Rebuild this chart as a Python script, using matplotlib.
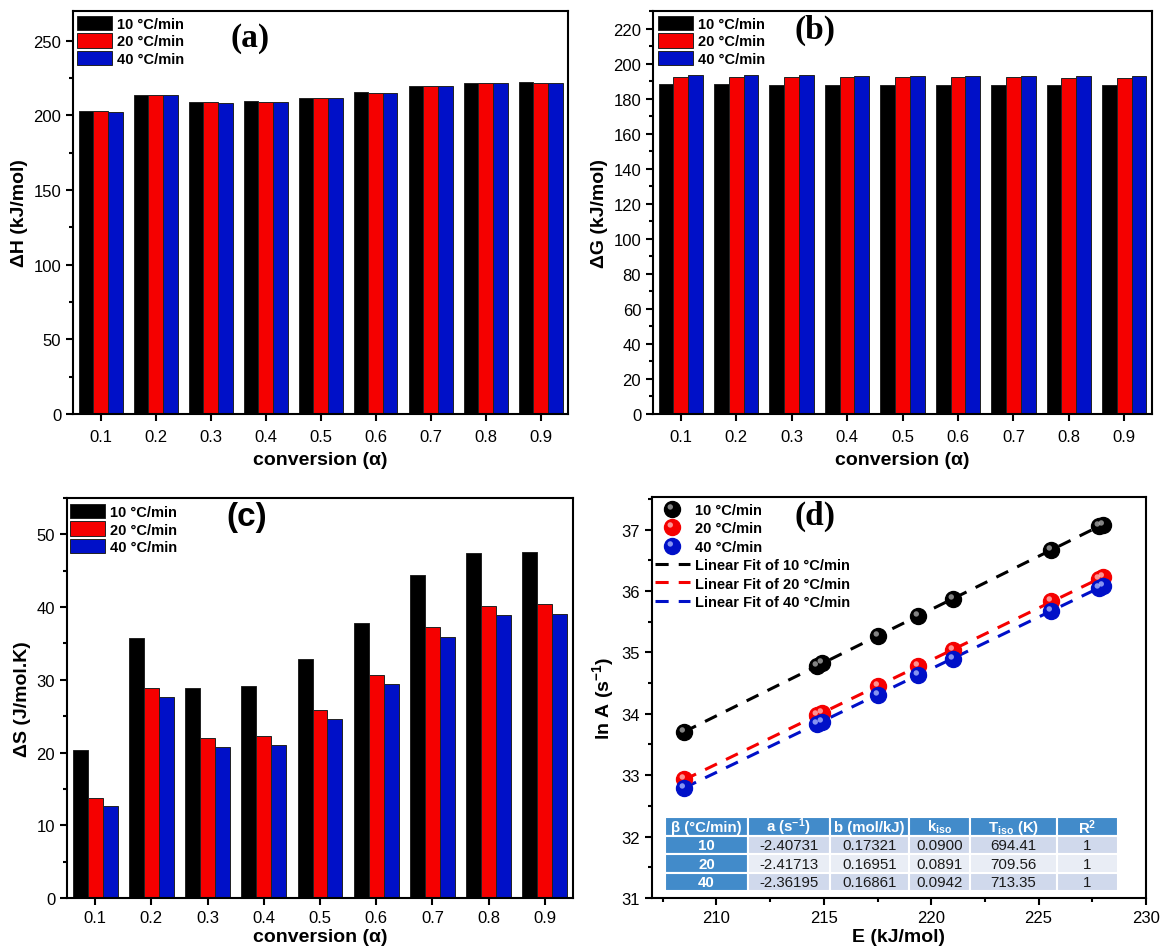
import matplotlib
matplotlib.use('Agg')
import matplotlib.pyplot as plt
import numpy as np
from matplotlib.path import Path
from matplotlib.ticker import MultipleLocator

plt.rcParams['font.family'] = ['Liberation Sans', 'DejaVu Sans']
plt.rcParams['mathtext.fontset'] = 'custom'
plt.rcParams['mathtext.rm'] = 'Liberation Sans'
plt.rcParams['mathtext.it'] = 'Liberation Sans:italic'
plt.rcParams['mathtext.bf'] = 'Liberation Sans:bold'

# data
conversion = [0.1, 0.2, 0.3, 0.4, 0.5, 0.6, 0.7, 0.8, 0.9]
conv_labels = ['0.1', '0.2', '0.3', '0.4', '0.5', '0.6', '0.7', '0.8', '0.9']
rates = ['10 °C/min', '20 °C/min', '40 °C/min']

dH_10 = [203.3, 213.8, 209.2, 209.4, 211.9, 215.4, 219.9, 221.8, 222.1]
dH_20 = [202.7, 213.4, 208.7, 208.8, 211.4, 214.8, 219.5, 221.5, 221.7]
dH_40 = [202.6, 213.4, 208.6, 208.8, 211.4, 214.8, 219.5, 221.5, 221.7]

dG_10 = [188.3, 188.1, 188.0, 188.0, 188.0, 187.9, 187.8, 187.8, 187.8]
dG_20 = [192.6, 192.4, 192.4, 192.3, 192.3, 192.2, 192.1, 192.0, 192.0]
dG_40 = [193.3, 193.2, 193.2, 193.1, 193.1, 193.0, 192.9, 192.8, 192.8]

dS_10 = [20.4, 35.8, 28.9, 29.1, 32.9, 37.8, 44.4, 47.5, 47.6]
dS_20 = [13.8, 28.9, 22.0, 22.3, 25.9, 30.7, 37.2, 40.2, 40.4]
dS_40 = [12.6, 27.6, 20.7, 21.0, 24.6, 29.4, 35.9, 38.9, 39.0]

E_act = [208.5, 219.4, 214.7, 214.9, 217.5, 221.0, 225.6, 227.8, 228.0]
lnA_10 = [33.71, 35.59, 34.78, 34.82, 35.27, 35.87, 36.67, 37.05, 37.08]
lnA_20 = [32.93, 34.77, 33.98, 34.01, 34.45, 35.04, 35.83, 36.20, 36.23]
lnA_40 = [32.79, 34.63, 33.84, 33.87, 34.31, 34.90, 35.68, 36.05, 36.08]

# fit table
tbl_beta = ['10', '20', '40']
tbl_a = [-2.40731, -2.41713, -2.36195]
tbl_b = [0.17321, 0.16951, 0.16861]
tbl_kiso = ['0.0900', '0.0891', '0.0942']
tbl_tiso = ['694.41', '709.56', '713.35']
tbl_r2 = ['1', '1', '1']

bar_colors = ['#000000', '#f50000', '#0010c8']
ball_light = ['#b0b0b0', '#ffc4c4', '#b4c0ff']

W, H = 1161, 953


def px_axes(fig, left, right, top, bottom):
    return fig.add_axes([left / W, 1 - bottom / H, (right - left) / W, (bottom - top) / H])


def style_axes(ax, xpad=3.5):
    for s in ax.spines.values():
        s.set_linewidth(1.5)
    ax.tick_params(which='both', direction='out', width=1.5, labelsize=12)
    ax.tick_params(axis='x', pad=xpad)
    ax.tick_params(which='major', length=5)
    ax.tick_params(which='minor', length=3)


def bar_panel(ax, series, ylim, major, minor, ylabel, tag, tag_pos, tag_font, leg_anchor, xpad):
    x = np.array(conversion)
    bw = 0.08 / 3
    for i, vals in enumerate(series):
        ax.bar(x + (i - 1) * bw, vals, width=bw, color=bar_colors[i],
               edgecolor='#222222', linewidth=0.7, label=rates[i])
    ax.set_xlim(0.05, 0.95)
    ax.set_ylim(*ylim)
    ax.set_xticks(x)
    ax.set_xticklabels(conv_labels)
    ax.yaxis.set_major_locator(MultipleLocator(major))
    ax.yaxis.set_minor_locator(MultipleLocator(minor))
    style_axes(ax, xpad)
    ax.set_xlabel('conversion (α)', fontsize=14, fontweight='bold', labelpad=xpad - 1)
    ax.set_ylabel(ylabel, fontsize=14, fontweight='bold')
    ax.text(tag_pos[0], tag_pos[1], tag, transform=ax.transAxes, ha='center', va='center',
            fontsize=24, fontweight='bold', family=tag_font)
    leg = ax.legend(loc='upper left', bbox_to_anchor=leg_anchor, frameon=False,
                    fontsize=10.5, handlelength=2.4, handleheight=1.15,
                    labelspacing=0.15, handletextpad=0.35, borderpad=0, borderaxespad=0)
    for t in leg.get_texts():
        t.set_fontweight('bold')


# soft highlight drawn on top of each ball
circ = Path.unit_circle()
hl_path = Path(np.vstack([circ.vertices * 0.17 + [-0.14, 0.16], [[0.5, 0.0]]]),
               np.concatenate([circ.codes, [Path.MOVETO]]))


def main():
    fig = plt.figure(figsize=(W / 100, H / 100), dpi=100)

    ax_a = px_axes(fig, 73, 568, 12, 415)
    bar_panel(ax_a, [dH_10, dH_20, dH_40], (0, 270), 50, 25, 'ΔH (kJ/mol)',
              '(a)', (0.357, 0.935), 'Liberation Serif', (0.008, 0.988), 6)

    ax_b = px_axes(fig, 653, 1152, 12, 415)
    bar_panel(ax_b, [dG_10, dG_20, dG_40], (0, 230), 20, 10, 'ΔG (kJ/mol)',
              '(b)', (0.325, 0.955), 'Liberation Serif', (0.01, 0.988), 6)

    ax_c = px_axes(fig, 67, 573, 499, 899)
    bar_panel(ax_c, [dS_10, dS_20, dS_40], (0, 55), 10, 5, 'ΔS (J/mol.K)',
              '(c)', (0.355, 0.953), 'Liberation Sans', (0.006, 0.985), 3.5)

    # (d) ln A vs E
    ax = px_axes(fig, 652, 1146, 498, 899)
    E = np.array(E_act)
    handles_pts = []
    handles_fit = []
    for i, lnA in enumerate([lnA_10, lnA_20, lnA_40]):
        xs = np.array([E.min(), E.max()])
        ln, = ax.plot(xs, tbl_a[i] + tbl_b[i] * xs, color=bar_colors[i], lw=2.2,
                      dashes=(4.3, 3.3), zorder=2)
        handles_fit.append(ln)
        base, = ax.plot(E, lnA, 'o', ms=11.5, color=bar_colors[i],
                        mec=bar_colors[i], zorder=3)
        hl, = ax.plot(E, lnA, linestyle='none', marker=hl_path, ms=11.5,
                      color=ball_light[i], mec='none', alpha=0.75, zorder=4)
        handles_pts.append((base, hl))
    ax.set_xlim(207, 230)
    ax.set_ylim(31, 37.53)
    ax.xaxis.set_major_locator(MultipleLocator(5))
    ax.xaxis.set_minor_locator(MultipleLocator(2.5))
    ax.yaxis.set_major_locator(MultipleLocator(1))
    ax.yaxis.set_minor_locator(MultipleLocator(0.5))
    style_axes(ax)
    ax.set_xlabel('E (kJ/mol)', fontsize=14, fontweight='bold', labelpad=2.5)
    ax.set_ylabel('ln A (s$^{\\mathbf{-1}}$)', fontsize=14, fontweight='bold')
    ax.text(0.33, 0.953, '(d)', transform=ax.transAxes, ha='center', va='center',
            fontsize=24, fontweight='bold', family='Liberation Serif')
    labels = rates + ['Linear Fit of ' + r for r in rates]
    leg = ax.legend(handles_pts + handles_fit, labels, loc='upper left',
                    bbox_to_anchor=(0.006, 0.985), frameon=False, fontsize=10.5,
                    handlelength=2.4, labelspacing=0.3, handletextpad=0.35,
                    borderpad=0, borderaxespad=0)
    for t in leg.get_texts():
        t.set_fontweight('bold')

    # parameter table
    header = ['β (°C/min)', 'a (s$^{\\mathbf{-1}}$)', 'b (mol/kJ)', 'k$_{\\mathbf{iso}}$',
              'T$_{\\mathbf{iso}}$ (K)', 'R$^{\\mathbf{2}}$']
    rows = []
    for i in range(3):
        rows.append([tbl_beta[i], '%.5f' % tbl_a[i], '%.5f' % tbl_b[i],
                     tbl_kiso[i], tbl_tiso[i], tbl_r2[i]])
    blue_hdr = '#428bca'
    row_cols = ['#d0d9ec', '#e9edf5', '#d0d9ec']
    colours = [[blue_hdr] * 6] + [[blue_hdr] + [row_cols[i]] * 5 for i in range(3)]
    widths = np.array([82.3, 82.0, 80.0, 60.7, 86.7, 61.6])
    tb = ax.table(cellText=[header] + rows, cellColours=colours,
                  colWidths=list(widths / widths.sum()), cellLoc='center',
                  bbox=[0.027, 0.017, 0.917, 0.184], zorder=5)
    tb.auto_set_font_size(False)
    for (r, c), cell in tb.get_celld().items():
        cell.set_edgecolor('white')
        cell.set_linewidth(1.5)
        txt = cell.get_text()
        txt.set_fontsize(10.8)
        if r == 0 or c == 0:
            txt.set_color('white')
            txt.set_fontweight('bold')
        else:
            txt.set_color('#1a1a1a')

    fig.savefig('out.png', dpi=100)


if __name__ == '__main__':
    main()
